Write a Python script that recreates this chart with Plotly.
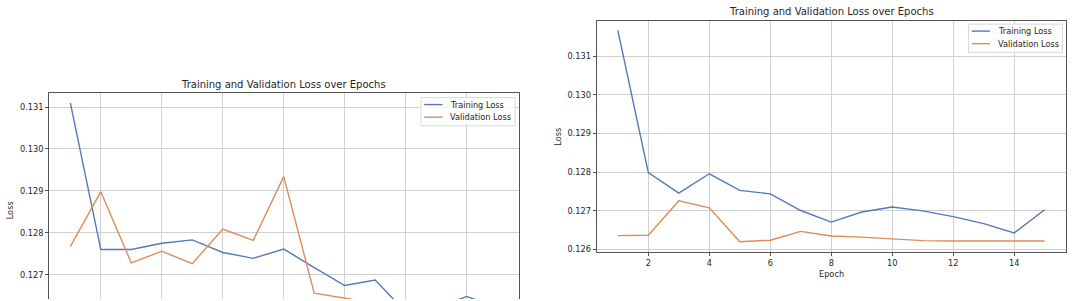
import plotly.graph_objects as go

# ---------------- data ----------------
epochs = list(range(1, 16))

left_train = [0.13110, 0.12760, 0.12760, 0.12775, 0.12783, 0.12753, 0.12739, 0.12761,
              0.12717, 0.12674, 0.12687, 0.12611, 0.12620, 0.12648, 0.12622]
left_val = [0.12767, 0.12898, 0.12728, 0.12756, 0.12726, 0.12809, 0.12782, 0.12934,
            0.12656, 0.12644, 0.12632, 0.12625, 0.12622, 0.12620, 0.12618]

right_train = [0.13167, 0.12799, 0.12746, 0.12796, 0.12753, 0.12744, 0.12701, 0.12671,
               0.12697, 0.12710, 0.12700, 0.12685, 0.12667, 0.12643, 0.12703]
right_val = [0.12636, 0.12637, 0.12726, 0.12708, 0.12620, 0.12624, 0.12647, 0.12635,
             0.12632, 0.12627, 0.12623, 0.12622, 0.12622, 0.12622, 0.12622]

series_names = ["Training Loss", "Validation Loss"]
title_text = "Training and Validation Loss over Epochs"
x_label = "Epoch"
y_label = "Loss"

# ---------------- style ----------------
W, H = 1074, 301
BLUE = "#5579b8"
ORANGE = "#e08a55"
FONT = "DejaVu Sans"
TXT = "#262626"
SPINE = "#555555"
GRID = "#d0d0d0"
LW = 1.4


def px_x(p):
    return p / W


def px_y(p):
    return 1 - p / H


fig = go.Figure()

# left chart (cropped at bottom)
fig.add_trace(go.Scatter(x=epochs, y=left_train, mode="lines", name=series_names[0],
                         line=dict(color=BLUE, width=LW), xaxis="x", yaxis="y",
                         showlegend=False))
fig.add_trace(go.Scatter(x=epochs, y=left_val, mode="lines", name=series_names[1],
                         line=dict(color=ORANGE, width=LW), xaxis="x", yaxis="y",
                         showlegend=False))
# right chart
fig.add_trace(go.Scatter(x=epochs, y=right_train, mode="lines", name=series_names[0],
                         line=dict(color=BLUE, width=LW), xaxis="x2", yaxis="y2",
                         showlegend=False))
fig.add_trace(go.Scatter(x=epochs, y=right_val, mode="lines", name=series_names[1],
                         line=dict(color=ORANGE, width=LW), xaxis="x2", yaxis="y2",
                         showlegend=False))

L = dict(x0=49, x1=518.5, top=93.5)
R = dict(x0=596.5, x1=1066, top=20.7, bottom=254)

common_axis = dict(showgrid=True, gridcolor=GRID, gridwidth=1, zeroline=False,
                   showline=True, linecolor=SPINE, linewidth=1,
                   tickfont=dict(family=FONT, size=8.2, color=TXT),
                   ticklen=3, tickwidth=1, tickcolor=SPINE)

fig.update_layout(
    width=W, height=H,
    margin=dict(l=0, r=0, t=0, b=0),
    paper_bgcolor="white", plot_bgcolor="white",
    font=dict(family=FONT, color=TXT),
    xaxis=dict(common_axis, domain=[px_x(L["x0"]), px_x(L["x1"])], range=[0.3, 15.7],
               anchor="y", side="top", ticks="", showticklabels=False, mirror=False,
               tickmode="linear", tick0=0, dtick=2),
    yaxis=dict(common_axis, domain=[0, px_y(L["top"])], range=[0.126419, 0.131339],
               anchor="x", mirror=True, ticks="outside",
               tickmode="linear", tick0=0.126, dtick=0.001, tickformat=".3f"),
    xaxis2=dict(common_axis, domain=[px_x(R["x0"]), px_x(R["x1"])], range=[0.3, 15.7],
                anchor="y2", mirror=True, ticks="outside",
                tickmode="linear", tick0=0, dtick=2),
    yaxis2=dict(common_axis, domain=[px_y(R["bottom"]), px_y(R["top"])],
                range=[0.125928, 0.131925], anchor="x2", mirror=True, ticks="outside",
                tickmode="linear", tick0=0.126, dtick=0.001, tickformat=".3f"),
    showlegend=False,
)

annotations = []
# titles
annotations.append(dict(text=title_text, x=px_x((L["x0"] + L["x1"]) / 2), y=px_y(85),
                        xref="paper", yref="paper", showarrow=False,
                        xanchor="center", yanchor="middle",
                        font=dict(family=FONT, size=10, color=TXT)))
annotations.append(dict(text=title_text, x=px_x((R["x0"] + R["x1"]) / 2), y=px_y(11.7),
                        xref="paper", yref="paper", showarrow=False,
                        xanchor="center", yanchor="middle",
                        font=dict(family=FONT, size=10, color=TXT)))
# axis labels
annotations.append(dict(text=y_label, x=px_x(10), y=px_y(211.7), xref="paper", yref="paper",
                        showarrow=False, textangle=-90, xanchor="center", yanchor="middle",
                        font=dict(family=FONT, size=8.2, color=TXT)))
annotations.append(dict(text=y_label, x=px_x(558.3), y=px_y(137.4), xref="paper", yref="paper",
                        showarrow=False, textangle=-90, xanchor="center", yanchor="middle",
                        font=dict(family=FONT, size=8.2, color=TXT)))
annotations.append(dict(text=x_label, x=px_x((R["x0"] + R["x1"]) / 2), y=px_y(276),
                        xref="paper", yref="paper", showarrow=False,
                        xanchor="center", yanchor="middle",
                        font=dict(family=FONT, size=8.2, color=TXT)))

shapes = []


def add_legend(x_left, y_top):
    # box
    shapes.append(dict(type="rect", xref="paper", yref="paper",
                       x0=px_x(x_left), x1=px_x(x_left + 94),
                       y0=px_y(y_top + 28.4), y1=px_y(y_top),
                       line=dict(color="#d9d9d9", width=1),
                       fillcolor="rgba(255,255,255,0.8)", layer="above"))
    for i, (name, col) in enumerate(zip(series_names, [BLUE, ORANGE])):
        yy = y_top + 7.0 + i * 12.65
        shapes.append(dict(type="line", xref="paper", yref="paper",
                           x0=px_x(x_left + 3.2), x1=px_x(x_left + 21.5),
                           y0=px_y(yy), y1=px_y(yy),
                           line=dict(color=col, width=LW), layer="above"))
        annotations.append(dict(text=name, x=px_x(x_left + 27), y=px_y(yy),
                                xref="paper", yref="paper", showarrow=False,
                                xanchor="left", yanchor="middle",
                                font=dict(family=FONT, size=8.2, color=TXT)))


add_legend(421, 98.3)
add_legend(968.5, 24.3)

fig.update_layout(annotations=annotations, shapes=shapes)

fig.write_html("out.html")
